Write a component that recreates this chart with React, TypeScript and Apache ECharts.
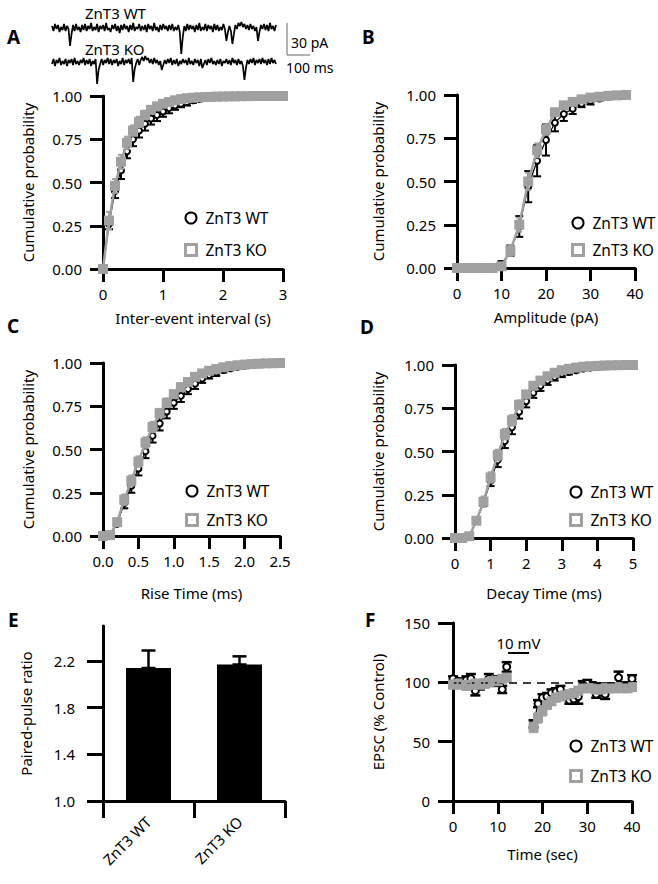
import React, { useEffect, useRef } from 'react';
import * as echarts from 'echarts';

const WT = 'ZnT3 WT';
const KO = 'ZnT3 KO';
const GRAY = '#a0a0a0';
const FONT = '"Noto Sans", sans-serif';

// ---------- Example traces (pA, relative to baseline), sampled every TRACE_DT ms ----------
const TRACE_DT = 6.5;
const TRACE_WT = [
  2, -3, 4, -1, 3, -4, 1, -2, 4, -3,
  2, -1, -18, -6, 3, -3, 4, -2, 1, -4,
  3, -2, 4, -3, 2, -1, 5, -3, 1, -2,
  4, -4, 2, -1, 3, -3, 5, -2, 0, -4,
  3, -1, 4, -3, 2, -5, 3, -2, 4, -1,
  2, -4, 3, -2, 5, -3, 1, -1, 4, -3,
  2, -2, 3, -4, 4, -1, 2, -3, 5, -2,
  1, -4, 3, -2, 4, -1, 2, -3, 3, -2,
  4, -3, 1, -2, 3, -4, -26, -9, 2, -3,
  4, -2, 3, -1, 2, -4, 3, -2, 5, -3,
  1, -2, 4, -3, 3, -1, 2, -4, 4, -2,
  3, -3, 1, -2, 4, -1, -13, -4, 2, -3,
  -16, -6, 3, -1, 5, 2, 6, 1, 4, -1,
  3, -2, 4, -1, 2, -3, 1, -13, -4, 3,
  -1, 4, -2, 3, -3, 5, -1, 2, -3, 3,
];
const TRACE_KO = [
  -2, 3, -4, 2, -1, 4, -3, 1, -2, 3,
  -4, 2, -1, 3, -3, 4, -2, 1, -3, 2,
  -1, 4, -3, 2, -2, 3, -4, 1, -2, 3,
  -22, -8, -2, 3, -3, 2, -1, 4, -2, 3,
  -3, 2, -1, 3, -4, 1, -2, 4, -3, 2,
  -1, 3, -2, 4, -20, -7, -1, 3, -3, 2,
  5, 1, 6, 2, 4, -1, 3, -2, 4, -1,
  2, -3, 1, -8, -3, 2, -2, 3, -1, 4,
  -3, 2, -2, 3, -4, 1, -2, 3, -1, 2,
  -3, 4, -2, 1, -3, 3, -1, 2, -4, 3,
  -6, -2, 2, -3, 3, -1, 4, -2, 1, -3,
  2, -2, 3, -4, 1, -1, 3, -2, 2, -3,
  4, -1, 2, -3, 3, -2, 1, -4, -18, -6,
  2, -2, 3, -1, 4, -3, 2, -1, 3, -2,
  4, -1, 2, -3, 3, -2, 4, -1, 2, -2,
];

// ---------- A: inter-event interval (s) ----------
const A_X = [0, 0.1, 0.2, 0.3, 0.4, 0.5, 0.6, 0.7, 0.8, 0.9, 1.0, 1.1, 1.2, 1.3, 1.4, 1.5, 1.6, 1.7, 1.8, 1.9, 2.0, 2.1, 2.2, 2.3, 2.4, 2.5, 2.6, 2.7, 2.8, 2.9, 3.0];
const A_WT = [0, 0.26, 0.45, 0.57, 0.68, 0.75, 0.8, 0.84, 0.87, 0.89, 0.91, 0.93, 0.945, 0.955, 0.965, 0.975, 0.982, 0.988, 0.992, 0.995, 0.997, 0.998, 0.999, 1, 1, 1, 1, 1, 1, 1, 1];
const A_WT_ERR = [0, 0.03, 0.04, 0.05, 0.04, 0.04, 0.04, 0.04, 0.035, 0.035, 0.03, 0.03, 0.025, 0.02, 0.02, 0.015, 0.012, 0.01, 0.008, 0.005, 0.004, 0.003, 0.002, 0, 0, 0, 0, 0, 0, 0, 0];
const A_KO = [0, 0.28, 0.48, 0.62, 0.73, 0.8, 0.85, 0.89, 0.92, 0.94, 0.955, 0.965, 0.975, 0.982, 0.987, 0.99, 0.992, 0.994, 0.995, 0.996, 0.997, 0.998, 0.998, 0.999, 0.999, 1, 1, 1, 1, 1, 1];
const A_KO_ERR = [0, 0.05, 0.04, 0.04, 0.035, 0.03, 0.03, 0.025, 0.02, 0.02, 0.015, 0.015, 0.012, 0.01, 0.008, 0.006, 0.005, 0.004, 0.003, 0.003, 0.002, 0.002, 0.001, 0.001, 0, 0, 0, 0, 0, 0, 0];

// ---------- B: amplitude (pA) ----------
const B_X = [0, 2, 4, 6, 8, 10, 12, 14, 16, 18, 20, 22, 24, 26, 28, 30, 32, 34, 36, 38];
const B_WT = [0, 0, 0, 0, 0, 0.02, 0.1, 0.24, 0.47, 0.62, 0.74, 0.84, 0.89, 0.92, 0.95, 0.965, 0.98, 0.99, 0.995, 1];
const B_WT_ERR = [0, 0, 0, 0, 0, 0.02, 0.03, 0.06, 0.09, 0.09, 0.09, 0.05, 0.04, 0.03, 0.02, 0.02, 0.012, 0.008, 0.005, 0];
const B_KO = [0, 0, 0, 0, 0, 0.01, 0.1, 0.25, 0.5, 0.68, 0.8, 0.9, 0.94, 0.96, 0.975, 0.985, 0.99, 0.995, 0.998, 1];
const B_KO_ERR = [0, 0, 0, 0, 0, 0.01, 0.03, 0.04, 0.05, 0.04, 0.03, 0.02, 0.02, 0.015, 0.01, 0.008, 0.006, 0.004, 0.002, 0];

// ---------- C: rise time (ms) ----------
const C_X = [0, 0.1, 0.2, 0.3, 0.4, 0.5, 0.6, 0.7, 0.8, 0.9, 1.0, 1.1, 1.2, 1.3, 1.4, 1.5, 1.6, 1.7, 1.8, 1.9, 2.0, 2.1, 2.2, 2.3, 2.4, 2.5];
const C_WT = [0, 0.003, 0.07, 0.19, 0.29, 0.39, 0.49, 0.58, 0.65, 0.72, 0.77, 0.81, 0.85, 0.88, 0.91, 0.93, 0.945, 0.96, 0.97, 0.978, 0.985, 0.99, 0.993, 0.996, 0.998, 1];
const C_WT_ERR = [0, 0, 0.01, 0.03, 0.04, 0.04, 0.04, 0.04, 0.04, 0.04, 0.035, 0.035, 0.03, 0.03, 0.025, 0.02, 0.02, 0.015, 0.012, 0.01, 0.008, 0.006, 0.004, 0.003, 0.002, 0];
const C_KO = [0, 0.005, 0.08, 0.21, 0.32, 0.43, 0.54, 0.63, 0.71, 0.77, 0.82, 0.86, 0.89, 0.92, 0.94, 0.955, 0.965, 0.975, 0.982, 0.987, 0.991, 0.994, 0.996, 0.998, 0.999, 1];
const C_KO_ERR = [0, 0.005, 0.02, 0.03, 0.03, 0.03, 0.03, 0.03, 0.025, 0.025, 0.02, 0.02, 0.02, 0.015, 0.015, 0.01, 0.01, 0.008, 0.006, 0.005, 0.004, 0.003, 0.002, 0.001, 0.001, 0];

// ---------- D: decay time (ms) ----------
const D_X = [0, 0.2, 0.4, 0.6, 0.8, 1.0, 1.2, 1.4, 1.6, 1.8, 2.0, 2.2, 2.4, 2.6, 2.8, 3.0, 3.2, 3.4, 3.6, 3.8, 4.0, 4.2, 4.4, 4.6, 4.8, 5.0];
const D_WT = [0, 0, 0.01, 0.1, 0.2, 0.33, 0.45, 0.56, 0.64, 0.73, 0.79, 0.84, 0.88, 0.91, 0.93, 0.95, 0.96, 0.97, 0.98, 0.985, 0.99, 0.993, 0.996, 0.998, 0.999, 1];
const D_WT_ERR = [0, 0, 0.005, 0.01, 0.015, 0.03, 0.04, 0.04, 0.04, 0.04, 0.035, 0.03, 0.03, 0.025, 0.02, 0.02, 0.015, 0.012, 0.01, 0.008, 0.006, 0.005, 0.004, 0.003, 0.002, 0];
const D_KO = [0, 0, 0.01, 0.1, 0.21, 0.35, 0.48, 0.6, 0.68, 0.77, 0.83, 0.88, 0.91, 0.935, 0.955, 0.97, 0.978, 0.985, 0.99, 0.993, 0.995, 0.997, 0.998, 0.999, 1, 1];
const D_KO_ERR = [0, 0, 0.005, 0.02, 0.03, 0.03, 0.03, 0.03, 0.03, 0.025, 0.02, 0.02, 0.015, 0.015, 0.01, 0.01, 0.008, 0.006, 0.005, 0.004, 0.003, 0.002, 0.001, 0.001, 0, 0];

// ---------- E: paired-pulse ratio ----------
const E_GROUPS = [WT, KO];
const E_MEAN = [2.14, 2.17];
const E_SEM = [0.15, 0.07];
const E_TICKS = [1.0, 1.4, 1.8, 2.2];

// ---------- F: EPSC (% control) vs time (s) ----------
const F_T_PRE = [0, 1, 2, 3, 4, 5, 6, 7, 8, 9, 10, 11, 12];
const F_WT_PRE = [103, 101, 100, 102, 103, 93, 97, 99, 103, 100, 102, 94, 113];
const F_WT_PRE_ERR = [2, 2, 3, 3, 4, 4, 3, 3, 4, 3, 3, 3, 4];
const F_KO_PRE = [98, 99, 98, 97, 98, 99, 98, 99, 100, 101, 101, 103, 104];
const F_KO_PRE_ERR = [3, 3, 3, 3, 3, 3, 3, 3, 3, 3, 3, 3, 3];
const F_T_POST = [18, 19, 20, 21, 22, 23, 24, 25, 26, 27, 28, 29, 30, 31, 32, 33, 34, 35, 36, 37, 38, 39, 40];
const F_WT_POST = [65, 82, 87, 88, 91, 92, 94, 89, 85, 86, 88, 98, 99, 97, 90, 94, 90, 96, 95, 104, 97, 96, 103];
const F_WT_POST_ERR = [3, 3, 3, 3, 3, 3, 3, 3, 3, 4, 6, 3, 3, 3, 3, 5, 4, 3, 3, 5, 3, 3, 3];
const F_KO_POST = [62, 70, 76, 81, 84, 87, 88, 89, 90, 91, 93, 95, 95, 95, 94, 94, 95, 95, 95, 96, 95, 95, 96];
const F_KO_POST_ERR = [4, 4, 4, 3, 3, 3, 3, 3, 3, 3, 3, 3, 3, 3, 3, 3, 3, 3, 3, 3, 3, 3, 3];
const F_BASELINE = 100;
const F_STEP = [12.3, 17.0];
const F_STEP_LEVEL = 125;

// ---------- helpers ----------
const pairs = (xs: number[], ys: number[]) => xs.map((x, i) => [x, ys[i]]);
const errRows = (xs: number[], ys: number[], es: number[]) => xs.map((x, i) => [x, ys[i] - es[i], ys[i] + es[i]]);

const errRender = (cap: number, color: string, lw: number) => (params: any, api: any) => {
  const x = api.value(0);
  const lo = api.value(1);
  const hi = api.value(2);
  if (!(hi - lo > 0)) return { type: 'group', children: [] };
  const a = api.coord([x, lo]);
  const b = api.coord([x, hi]);
  const st = { stroke: color, lineWidth: lw };
  return {
    type: 'group',
    children: [
      { type: 'line', shape: { x1: a[0], y1: a[1], x2: b[0], y2: b[1] }, style: st },
      { type: 'line', shape: { x1: a[0] - cap, y1: a[1], x2: a[0] + cap, y2: a[1] }, style: st },
      { type: 'line', shape: { x1: b[0] - cap, y1: b[1], x2: b[0] + cap, y2: b[1] }, style: st },
    ],
  };
};

const errSeries = (idx: number, rows: number[][], color: string, z: number, cap = 4, lw = 2) => ({
  type: 'custom',
  xAxisIndex: idx,
  yAxisIndex: idx,
  data: rows,
  encode: { x: 0, y: [1, 2] },
  renderItem: errRender(cap, color, lw),
  silent: true,
  clip: false,
  z,
});

const wtLine = (idx: number, data: number[][], size = 6) => ({
  type: 'line',
  name: WT,
  xAxisIndex: idx,
  yAxisIndex: idx,
  data,
  symbol: 'emptyCircle',
  symbolSize: size,
  showAllSymbol: true,
  lineStyle: { color: '#000', width: 1.2 },
  itemStyle: { color: '#000', borderWidth: 1.5 },
  emphasis: { disabled: true },
  silent: true,
  z: 3,
});

const koLine = (idx: number, data: number[][], size = 10) => ({
  type: 'line',
  name: KO,
  xAxisIndex: idx,
  yAxisIndex: idx,
  data,
  symbol: 'rect',
  symbolSize: size,
  showAllSymbol: true,
  lineStyle: { color: GRAY, width: 2.5 },
  itemStyle: { color: GRAY },
  emphasis: { disabled: true },
  silent: true,
  z: 4,
});

const valAxis = (gridIndex: number, o: any) => ({
  type: 'value',
  gridIndex,
  min: o.min,
  max: o.max,
  interval: o.interval,
  name: o.name,
  nameLocation: 'middle',
  nameGap: o.nameGap,
  nameMoveOverlap: false,
  nameTextStyle: { color: '#000', fontSize: 15, fontFamily: FONT },
  axisLine: { show: true, onZero: false, lineStyle: { color: '#000', width: 3 } },
  axisTick: { show: true, length: o.tickLen ?? 13, lineStyle: { color: '#000', width: 3 } },
  axisLabel: { show: true, color: '#000', fontSize: 15, fontFamily: FONT, margin: o.margin, formatter: o.fmt },
  splitLine: { show: false },
});

const hiddenAxis = (gridIndex: number, min: number, max: number) => ({
  type: 'value', gridIndex, min, max, show: false, splitLine: { show: false },
});

const legendAt = (left: number, top: number, gap: number) => ({
  orient: 'vertical',
  left,
  top,
  padding: 0,
  itemWidth: 11,
  itemHeight: 11,
  itemGap: gap,
  selectedMode: false,
  textStyle: { color: '#000', fontSize: 15.5, fontFamily: FONT, lineHeight: 20, padding: [0, 0, 0, 4] },
  data: [
    { name: WT, icon: 'circle', itemStyle: { color: '#fff', borderColor: '#000', borderWidth: 2 } },
    { name: KO, icon: 'rect', itemStyle: { color: '#fff', borderColor: GRAY, borderWidth: 3 } },
  ],
});

const f2 = (v: number) => v.toFixed(2);
const f1 = (v: number) => v.toFixed(1);
const f0 = (v: number) => String(v);

function buildOption() {
  const grid = [
    { left: 103, top: 96, width: 180, height: 173 }, // A
    { left: 457, top: 95, width: 178, height: 173 }, // B
    { left: 103, top: 363, width: 177, height: 173 }, // C
    { left: 455, top: 365, width: 178, height: 173 }, // D
    { left: 103, top: 626, width: 182, height: 175 }, // E
    { left: 453, top: 623, width: 179, height: 178 }, // F
    { left: 52, top: 13, width: 224, height: 50 }, // trace WT
    { left: 52, top: 47, width: 224, height: 50 }, // trace KO
  ];

  const cumName = 'Cumulative probability';
  const xAxis: any[] = [
    valAxis(0, { min: 0, max: 3, interval: 1, name: 'Inter-event interval (s)', nameGap: 41, margin: 17, fmt: f0 }),
    valAxis(1, { min: 0, max: 40, interval: 10, name: 'Amplitude (pA)', nameGap: 41, margin: 17, fmt: f0 }),
    valAxis(2, { min: 0, max: 2.5, interval: 0.5, name: 'Rise Time (ms)', nameGap: 49, margin: 17, fmt: f1 }),
    valAxis(3, { min: 0, max: 5, interval: 1, name: 'Decay Time (ms)', nameGap: 47, margin: 17, fmt: f0 }),
    {
      type: 'category',
      gridIndex: 4,
      data: E_GROUPS,
      boundaryGap: true,
      axisLine: { show: true, lineStyle: { color: '#000', width: 3 } },
      axisTick: { show: true, alignWithLabel: false, length: 17, lineStyle: { color: '#000', width: 3 } },
      axisLabel: { color: '#000', fontSize: 15, fontFamily: FONT, rotate: 45, margin: 18, interval: 0 },
      splitLine: { show: false },
    },
    valAxis(5, { min: 0, max: 40, interval: 10, name: 'Time (sec)', nameGap: 45, margin: 17, fmt: f0 }),
    hiddenAxis(6, 0, (TRACE_WT.length - 1) * TRACE_DT),
    hiddenAxis(7, 0, (TRACE_KO.length - 1) * TRACE_DT),
  ];
  const yAxis: any[] = [
    valAxis(0, { min: 0, max: 1, interval: 0.25, name: cumName, nameGap: 68, margin: 21, fmt: f2 }),
    valAxis(1, { min: 0, max: 1, interval: 0.25, name: cumName, nameGap: 72, margin: 21, fmt: f2 }),
    valAxis(2, { min: 0, max: 1, interval: 0.25, name: cumName, nameGap: 68, margin: 21, fmt: f2 }),
    valAxis(3, { min: 0, max: 1, interval: 0.25, name: cumName, nameGap: 70, margin: 21, fmt: f2 }),
    {
      ...valAxis(4, { min: 1.0, max: 2.5, name: 'Paired-pulse ratio', nameGap: 70, margin: 28, tickLen: 16, fmt: f1 }),
      axisTick: { show: true, length: 16, lineStyle: { color: '#000', width: 3 }, customValues: E_TICKS },
      axisLabel: { show: true, color: '#000', fontSize: 15, fontFamily: FONT, margin: 28, formatter: f1, customValues: E_TICKS },
    },
    valAxis(5, { min: 0, max: 150, interval: 50, name: 'EPSC (% Control)', nameGap: 68, margin: 23, tickLen: 15, fmt: f0 }),
    hiddenAxis(6, -35, 15),
    hiddenAxis(7, -35, 15),
  ];

  const series: any[] = [];
  const cdfs = [
    [A_X, A_WT, A_WT_ERR, A_KO, A_KO_ERR],
    [B_X, B_WT, B_WT_ERR, B_KO, B_KO_ERR],
    [C_X, C_WT, C_WT_ERR, C_KO, C_KO_ERR],
    [D_X, D_WT, D_WT_ERR, D_KO, D_KO_ERR],
  ];
  cdfs.forEach(([xs, wt, wtE, ko, koE], idx) => {
    series.push(errSeries(idx, errRows(xs, wt, wtE), '#000', 2, 4, 2));
    series.push(wtLine(idx, pairs(xs, wt)));
    series.push(koLine(idx, pairs(xs, ko)));
    series.push(errSeries(idx, errRows(xs, ko, koE), GRAY, 5, 3, 2));
  });

  // E bars
  series.push({
    type: 'bar',
    xAxisIndex: 4,
    yAxisIndex: 4,
    data: E_MEAN,
    barWidth: 45,
    itemStyle: { color: '#000' },
    emphasis: { disabled: true },
    silent: true,
    z: 2,
  });
  series.push(errSeries(4, E_MEAN.map((m, i) => [i, m, m + E_SEM[i]]), '#000', 3, 7, 2.5));

  // F
  const fWtPre = wtLine(5, pairs(F_T_PRE, F_WT_PRE), 7);
  (fWtPre as any).markLine = {
    silent: true,
    symbol: 'none',
    animation: false,
    data: [
      [
        { coord: [0, F_BASELINE], lineStyle: { type: [8, 6], color: '#000', width: 1.5 }, label: { show: false } },
        { coord: [40, F_BASELINE] },
      ],
      [
        {
          coord: [F_STEP[0], F_STEP_LEVEL],
          lineStyle: { type: 'solid', color: '#000', width: 2 },
          label: { show: true, formatter: '10 mV', position: 'insideMiddleTop', color: '#000', fontSize: 15, fontFamily: FONT, distance: 2 },
        },
        { coord: [F_STEP[1], F_STEP_LEVEL] },
      ],
    ],
  };
  series.push(errSeries(5, errRows(F_T_PRE, F_WT_PRE, F_WT_PRE_ERR), '#000', 2, 5, 2.5));
  series.push(errSeries(5, errRows(F_T_POST, F_WT_POST, F_WT_POST_ERR), '#000', 2, 5, 2.5));
  series.push(fWtPre);
  series.push(wtLine(5, pairs(F_T_POST, F_WT_POST), 7));
  series.push(koLine(5, pairs(F_T_PRE, F_KO_PRE), 10));
  series.push(koLine(5, pairs(F_T_POST, F_KO_POST), 10));
  series.push(errSeries(5, errRows(F_T_PRE, F_KO_PRE, F_KO_PRE_ERR), GRAY, 5, 4, 2));
  series.push(errSeries(5, errRows(F_T_POST, F_KO_POST, F_KO_POST_ERR), GRAY, 5, 4, 2));

  // Traces
  [TRACE_WT, TRACE_KO].forEach((tr, k) => {
    series.push({
      type: 'line',
      xAxisIndex: 6 + k,
      yAxisIndex: 6 + k,
      data: tr.map((v, i) => [i * TRACE_DT, v]),
      symbol: 'none',
      lineStyle: { color: '#000', width: 1.7 },
      silent: true,
      z: 2,
    });
  });

  const letter = (t: string, x: number, y: number) => ({
    type: 'text',
    x,
    y,
    style: { text: t, fill: '#000', font: `bold 19px ${FONT}`, align: 'left', verticalAlign: 'middle' },
  });
  const txt = (t: string, x: number, y: number, size = 15) => ({
    type: 'text',
    x,
    y,
    style: { text: t, fill: '#000', font: `${size}px ${FONT}`, align: 'left', verticalAlign: 'middle' },
  });

  const graphic = [
    letter('A', 7, 37),
    letter('B', 362, 37),
    letter('C', 7, 326),
    letter('D', 360, 327),
    letter('E', 8, 620),
    letter('F', 365, 620),
    txt(WT, 85, 13),
    txt(KO, 85, 49),
    { type: 'line', shape: { x1: 287, y1: 23, x2: 287, y2: 55 }, style: { stroke: '#666', lineWidth: 1 } },
    { type: 'line', shape: { x1: 287, y1: 55, x2: 310, y2: 55 }, style: { stroke: '#666', lineWidth: 1 } },
    txt('30 pA', 291, 42, 14),
    txt('100 ms', 286, 67, 14),
  ];

  return {
    animation: false,
    backgroundColor: '#fff',
    textStyle: { fontFamily: FONT },
    grid,
    xAxis,
    yAxis,
    legend: [
      legendAt(184, 208, 12),
      legendAt(571, 213, 7),
      legendAt(185, 481, 9),
      legendAt(569, 482, 8),
      legendAt(569, 736, 10),
    ],
    series,
    graphic,
  };
}

export default function App() {
  const ref = useRef<HTMLDivElement>(null);
  useEffect(() => {
    const chart = echarts.init(ref.current!, null, { renderer: 'svg', width: 658, height: 884 });
    chart.setOption(buildOption() as any);
    return () => chart.dispose();
  }, []);
  return (
    <div
      ref={ref}
      style={{ position: 'absolute', left: 0, top: 0, width: 658, height: 884, background: '#fff' }}
    />
  );
}
